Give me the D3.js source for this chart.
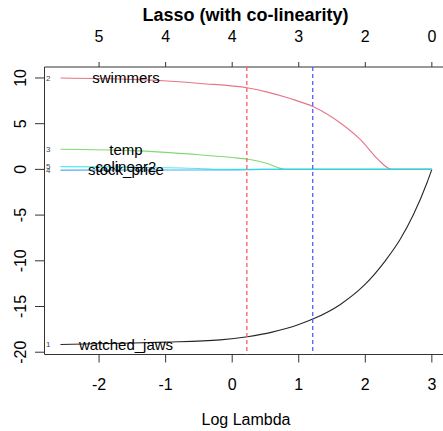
<!DOCTYPE html>
<html lang="en">
<head>
  <meta charset="UTF-8" />
  <title>Lasso (with co-linearity)</title>
  <script src="https://d3js.org/d3.v7.min.js"></script>
  <style>
    body {
      margin: 0;
      padding: 0;
      background: white;
      font-family: "Liberation Sans", Arial, sans-serif;
    }
    svg { display: block; }
    .tick-label { font-size: 16px; fill: black; }
    .var-label { font-size: 15px; fill: black; }
    .num-label { font-size: 8px; fill: #444; }
  </style>
</head>
<body>
  <svg id="chart" width="443" height="431"></svg>
  <script>
    // coefficient paths, [log lambda, coefficient]
    const watchedJaws = [[-2.58, -19.15], [-1.5, -19.0], [-1.0, -18.9], [-0.18, -18.65], [0.23, -18.3],
      [0.6, -17.8], [0.99, -17.0], [1.22, -16.35], [1.62, -14.8], [1.98, -12.7], [2.30, -10.0],
      [2.52, -7.7], [2.72, -5.0], [2.93, -1.4], [3.0, 0]];
    const swimmers = [[-2.58, 10.0], [-1.5, 9.85], [-1.04, 9.7], [-0.48, 9.4], [0.24, 8.9], [0.53, 8.45],
      [0.87, 7.75], [1.22, 6.85], [1.62, 5.1], [1.92, 3.3], [2.19, 1.1], [2.33, 0.2], [2.39, 0], [3.0, 0]];
    const temp = [[-2.58, 2.2], [-1.5, 2.05], [-0.5, 1.6], [0, 1.3], [0.24, 1.1], [0.5, 0.7], [0.8, 0], [3.0, 0]];
    const stockPrice = [[-2.58, -0.08], [-1.0, -0.07], [0, -0.05], [0.45, 0], [3.0, 0]];
    const colinear2 = [[-2.58, 0.3], [-1.5, 0.25], [-0.5, 0.1], [-0.2, 0], [3.0, 0]];

    const seriesNames = ["watched_jaws", "swimmers", "temp", "stock_price", "colinear2"];
    const seriesData = [watchedJaws, swimmers, temp, stockPrice, colinear2];
    const seriesColors = ["#000000", "#DF536B", "#61D04F", "#2297E6", "#28E2E5"];

    const xTicks = [-2, -1, 0, 1, 2, 3];
    const yTicks = [-20, -15, -10, -5, 0, 5, 10];
    const dfLabels = ["5", "4", "4", "3", "2", "0"];   // non-zero count on top axis
    const lambdaMin = 0.22, lambda1se = 1.21;

    const svg = d3.select("#chart");
    const plotL = 44.5, plotR = 446.5, plotT = 67, plotB = 354.5;

    const x = d3.scaleLinear().domain([-2.82, 3.22]).range([plotL, plotR]);
    const y = d3.scaleLinear().domain([-20.25, 11.2]).range([plotB, plotT]);

    // box (right side falls outside the window)
    svg.append("path")
      .attr("d", `M${plotR},${plotT}H${plotL}V${plotB}H${plotR}`)
      .attr("fill", "none").attr("stroke", "#333").attr("stroke-width", 1);

    // bottom axis
    svg.selectAll(".xtick").data(xTicks).join("line")
      .attr("x1", d => x(d)).attr("x2", d => x(d))
      .attr("y1", plotB).attr("y2", plotB + 8)
      .attr("stroke", "#333");
    svg.selectAll(".xlab").data(xTicks).join("text")
      .attr("class", "tick-label")
      .attr("x", d => x(d)).attr("y", 390)
      .attr("text-anchor", "middle")
      .text(d => d < 0 ? "-" + Math.abs(d) : d);

    // top axis (degrees of freedom)
    svg.selectAll(".ttick").data(xTicks).join("line")
      .attr("x1", d => x(d)).attr("x2", d => x(d))
      .attr("y1", plotT).attr("y2", plotT - 5)
      .attr("stroke", "#333");
    svg.selectAll(".tlab").data(xTicks).join("text")
      .attr("class", "tick-label")
      .attr("x", d => x(d)).attr("y", 42)
      .attr("text-anchor", "middle")
      .text((d, i) => dfLabels[i]);

    // left axis
    svg.selectAll(".ytick").data(yTicks).join("line")
      .attr("x1", plotL - 9.5).attr("x2", plotL)
      .attr("y1", d => y(d)).attr("y2", d => y(d))
      .attr("stroke", "#333");
    svg.selectAll(".ylab").data(yTicks).join("text")
      .attr("class", "tick-label")
      .attr("transform", d => `translate(26,${y(d)}) rotate(-90)`)
      .attr("text-anchor", "middle")
      .text(d => d < 0 ? "-" + Math.abs(d) : d);

    // titles
    svg.append("text")
      .attr("x", (plotL + plotR) / 2).attr("y", 21)
      .attr("text-anchor", "middle")
      .style("font-size", "18px").style("font-weight", "bold")
      .text("Lasso (with co-linearity)");
    svg.append("text")
      .attr("x", 246).attr("y", 425)
      .attr("text-anchor", "middle")
      .style("font-size", "16px")
      .text("Log Lambda");

    // coefficient paths
    const line = d3.line().x(d => x(d[0])).y(d => y(d[1])).curve(d3.curveMonotoneX);
    svg.selectAll(".path").data(seriesData).join("path")
      .attr("d", line)
      .attr("fill", "none")
      .attr("stroke", (d, i) => seriesColors[i])
      .attr("stroke-opacity", (d, i) => i === 0 ? 0.85 : 0.8)
      .attr("stroke-width", 1.1);

    // cross-validation lambdas
    [[lambdaMin, "#ff5a5a"], [lambda1se, "#5a5aff"]].forEach(([v, c]) => {
      svg.append("line")
        .attr("x1", x(v)).attr("x2", x(v))
        .attr("y1", plotT).attr("y2", plotB)
        .attr("stroke", c).attr("stroke-width", 1.3)
        .attr("stroke-dasharray", "4,3");
    });

    // variable labels and numbers at the left end (last two overlap, as in the original)
    svg.selectAll(".var-label").data(seriesData).join("text")
      .attr("class", "var-label")
      .attr("x", 126).attr("y", d => y(d[0][1]))
      .attr("dy", "0.35em")
      .attr("text-anchor", "middle")
      .text((d, i) => seriesNames[i]);
    svg.selectAll(".num-label").data(seriesData).join("text")
      .attr("class", "num-label")
      .attr("x", 46).attr("y", d => y(d[0][1]))
      .attr("dy", "0.35em")
      .text((d, i) => i + 1);
  </script>
</body>
</html>
